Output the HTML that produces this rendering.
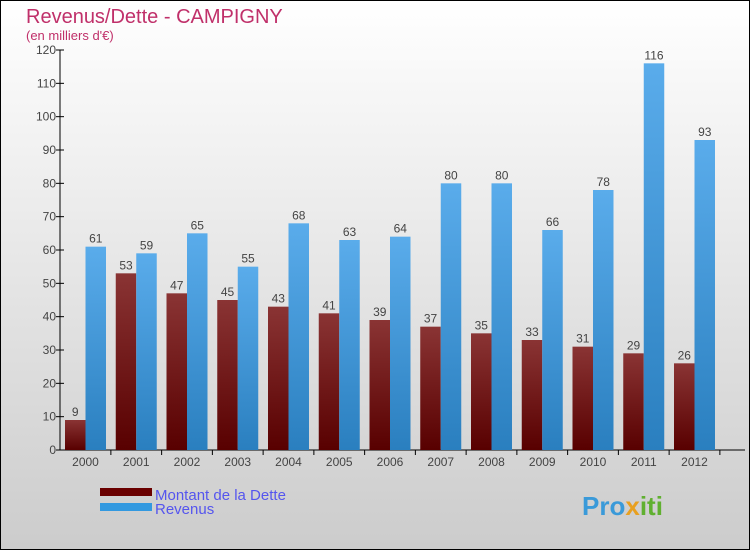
<!DOCTYPE html>
<html><head><meta charset="utf-8"><style>
body{margin:0;}
#c{width:750px;height:550px;position:relative;font-family:"Liberation Sans",sans-serif;}
</style></head><body>
<div id="c">
<svg id="s" width="750" height="550" xmlns="http://www.w3.org/2000/svg">
<defs>
<linearGradient id="bg" x1="0" y1="0" x2="0" y2="1"><stop offset="0" stop-color="#ffffff"/><stop offset="1" stop-color="#cccccc"/></linearGradient>
<linearGradient id="gd" x1="0" y1="0" x2="0" y2="1"><stop offset="0" stop-color="#8a3434"/><stop offset="1" stop-color="#580000"/></linearGradient>
<linearGradient id="gr" x1="0" y1="0" x2="0" y2="1"><stop offset="0" stop-color="#5aaceb"/><stop offset="1" stop-color="#2a7fbf"/></linearGradient>
</defs>
<rect x="0.5" y="0.5" width="749" height="549" fill="url(#bg)" stroke="#000"/>
<text x="26" y="23" font-size="20" fill="#c0306a">Revenus/Dette - CAMPIGNY</text>
<text x="26" y="40" font-size="13" fill="#c0306a">(en milliers d'€)</text>
<g id="plot"></g>
<rect x="100" y="488" width="52" height="8" fill="#6a0000"/>
<rect x="100" y="503" width="52" height="8" fill="#3399e0"/>
<text x="155" y="500" font-size="15" fill="#5555ee">Montant de la Dette</text>
<text x="155" y="514" font-size="15" fill="#5555ee">Revenus</text>
<text x="582" y="515" font-size="26" font-weight="bold" fill="#3a9ad9">Pro<tspan fill="#e8a020">x</tspan><tspan fill="#60b030">iti</tspan></text>
</svg>
</div>
<script>
const years=["2000","2001","2002","2003","2004","2005","2006","2007","2008","2009","2010","2011","2012"];
const dette=[9,53,47,45,43,41,39,37,35,33,31,29,26];
const revenus=[61,59,65,55,68,63,64,80,80,66,78,116,93];
const yTicks=[0,10,20,30,40,50,60,70,80,90,100,110,120];
const NS="http://www.w3.org/2000/svg";
const g=document.getElementById('plot');
const y0=450,yTop=50,yMax=120,xL=60,step=50.75,bw=20.5;
function yS(v){return y0-(v/yMax)*(y0-yTop);}
function xC(i){return 85.5+i*step;}
function mk(t,a,txt){const e=document.createElementNS(NS,t);for(const k in a)e.setAttribute(k,a[k]);if(txt!==undefined)e.textContent=txt;g.appendChild(e);return e;}
let ax=mk('line',{x1:xL,y1:yTop,x2:xL,y2:y0,stroke:'#000'});


let xa=mk('line',{x1:xL,y1:y0,x2:745,y2:y0,stroke:'#000'});


yTicks.forEach(v=>{
 const tk=mk('line',{x1:xL-4,y1:yS(v),x2:xL+4,y2:yS(v),stroke:'#000'});
 
 
 const t=mk('text',{x:xL-4,y:yS(v)+4,'font-size':12,fill:'#444','text-anchor':'end'},v);
 
 
});
years.forEach((yr,i)=>{
 const c=xC(i);
 const tk=mk('line',{x1:c+step/2,y1:y0,x2:c+step/2,y2:y0+5,stroke:'#000'});
 
 
 const t=mk('text',{x:c,y:y0+16,'font-size':12,fill:'#444','text-anchor':'middle'},yr);
 
 
 const b1=mk('rect',{x:c-bw,y:yS(dette[i]),width:bw,height:y0-yS(dette[i]),fill:'url(#gd)'});
 
 
 const l1=mk('text',{x:c-bw/2,y:yS(dette[i])-4,'font-size':12,fill:'#444','text-anchor':'middle'},dette[i]);
 
 
 const b2=mk('rect',{x:c,y:yS(revenus[i]),width:bw,height:y0-yS(revenus[i]),fill:'url(#gr)'});
 
 
 const l2=mk('text',{x:c+bw/2,y:yS(revenus[i])-4,'font-size':12,fill:'#444','text-anchor':'middle'},revenus[i]);
 
 
});
</script>
</body></html>
